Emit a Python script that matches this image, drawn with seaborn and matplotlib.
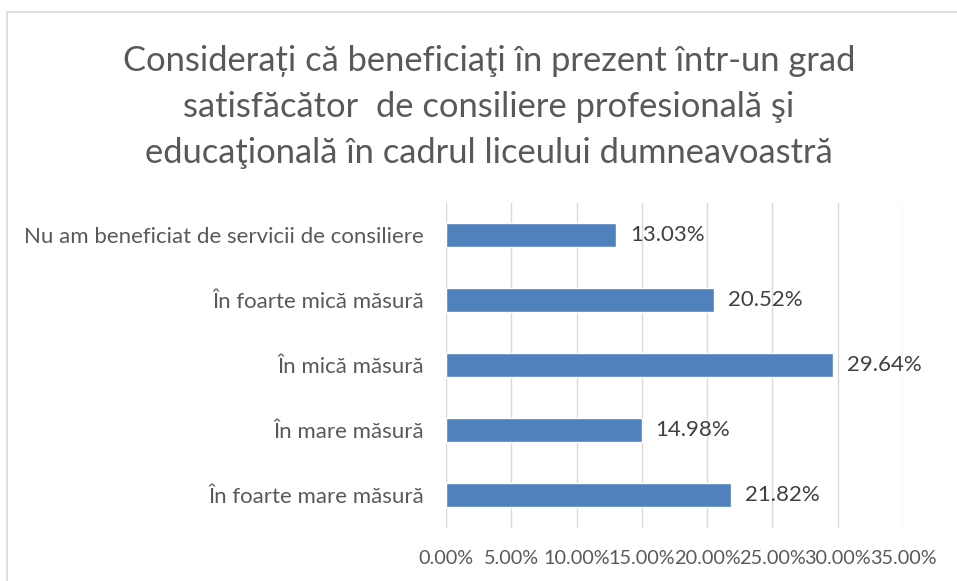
import matplotlib
matplotlib.use("Agg")
import matplotlib.pyplot as plt
import matplotlib.patches as mpatches
from matplotlib.ticker import FuncFormatter, MultipleLocator
import seaborn as sns
import pandas as pd

categories = [
    "Nu am beneficiat de servicii de consiliere",
    "În foarte mică măsură",
    "În mică măsură",
    "În mare măsură",
    "În foarte mare măsură",
]
values = [0.1303, 0.2052, 0.2964, 0.1498, 0.2182]
value_labels = ["13.03%", "20.52%", "29.64%", "14.98%", "21.82%"]
title = ("Considerați că beneficiaţi în prezent într-un grad\n"
         "satisfăcător  de consiliere profesională şi\n"
         "educaţională în cadrul liceului dumneavoastră")

sns.set_theme(style="white")
plt.rcParams['font.family'] = ['Lato', 'DejaVu Sans']

df = pd.DataFrame({"cat": categories, "val": values})

W, H = 957, 581
fig = plt.figure(figsize=(W / 100, H / 100), dpi=100)
ax = fig.add_axes([446 / W, 1 - 527.5 / H, (903 - 446) / W, (527.5 - 202.5) / H])

sns.barplot(data=df, x="val", y="cat", order=categories, color="#4F81BD",
            width=0.36, saturation=1, ax=ax, zorder=3)

ax.set_xlim(0, 0.35)
ax.set_ylim(4.5, -0.5)
ax.xaxis.set_major_locator(MultipleLocator(0.05))
ax.xaxis.set_major_formatter(FuncFormatter(lambda v, p: f"{v*100:.2f}%"))
ax.grid(axis="x", color="#D9D9D9", linewidth=1, zorder=0)
ax.grid(axis="y", visible=False)
for s in ax.spines.values():
    s.set_visible(False)
ax.set_xlabel("")
ax.set_ylabel("")
ax.tick_params(axis="both", length=0, colors="#595959")
ax.tick_params(axis="y", pad=16, labelsize=16)
ax.tick_params(axis="x", pad=16, labelsize=14.3)

for i, (v, lab) in enumerate(zip(values, value_labels)):
    ax.annotate(lab, xy=(v, i), xytext=(10, 0), textcoords="offset points",
                ha="left", va="center", fontsize=16, color="#404040")

fig.text(489 / W, 1 - 107 / H, title, ha="center", va="center",
         fontsize=24.8, color="#595959", linespacing=1.55)

border = mpatches.Rectangle((7.5 / W, -0.1), 1.2, 1 - 12.5 / H + 0.1,
                            transform=fig.transFigure, fill=False,
                            edgecolor="#D9D9D9", linewidth=1.2)
fig.patches.append(border)

fig.savefig("out.png", dpi=100, facecolor="white")
